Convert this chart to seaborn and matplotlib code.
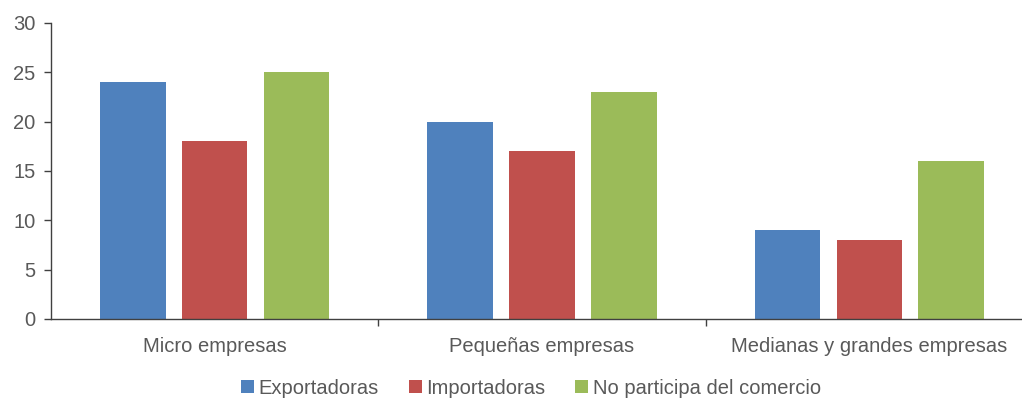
import matplotlib
matplotlib.use("Agg")
import matplotlib.pyplot as plt
import seaborn as sns
import pandas as pd
from matplotlib.patches import Patch

categories = ["Micro empresas", "Pequeñas empresas", "Medianas y grandes empresas"]
series = ["Exportadoras", "Importadoras", "No participa del comercio"]
exportadoras = [24, 20, 9]
importadoras = [18, 17, 8]
no_participa = [25, 23, 16]
colors = ["#4F81BD", "#C0504D", "#9BBB59"]

rows = []
for name, vals in zip(series, [exportadoras, importadoras, no_participa]):
    for cat, v in zip(categories, vals):
        rows.append({"categoria": cat, "serie": name, "valor": v})
df = pd.DataFrame(rows)

sns.set_style("white")
plt.rcParams["font.family"] = ["Liberation Sans", "DejaVu Sans"]

fig = plt.figure(figsize=(10.22, 3.98), dpi=100)
ax = fig.add_axes([51 / 1022, 79 / 398, 982 / 1022, 296 / 398])

sns.barplot(data=df, x="categoria", y="valor", hue="serie", order=categories,
            hue_order=series, palette=colors, width=0.75, gap=0.2,
            saturation=1, linewidth=0, ax=ax, legend=False)

ax.set_xlim(-0.5, 2.5)
ax.set_ylim(0, 30)
ax.set_yticks(range(0, 31, 5))
ax.set_xlabel("")
ax.set_ylabel("")

for s in ["top", "right"]:
    ax.spines[s].set_visible(False)
for s in ["left", "bottom"]:
    ax.spines[s].set_color("#404040")
    ax.spines[s].set_linewidth(1.0)

ax.tick_params(axis="y", direction="out", length=5, width=1, color="#404040",
               labelsize=14.5, labelcolor="#595959", pad=6, left=True)
ax.tick_params(axis="x", which="major", length=0, labelsize=14.5,
               labelcolor="#595959", pad=13)
ax.set_xticks([0.5, 1.5], minor=True)
ax.tick_params(axis="x", which="minor", direction="out", length=5, width=1,
               color="#404040", bottom=True)

handles = [Patch(facecolor=c, edgecolor="none") for c in colors]
fig.legend(handles, series, loc="center", bbox_to_anchor=(531 / 1022, 1 - 388 / 398),
           ncol=3, frameon=False, fontsize=14.5, handlelength=0.65, handleheight=0.65,
           handletextpad=0.2, columnspacing=1.5, labelcolor="#595959")

fig.savefig("out.png", dpi=100)
